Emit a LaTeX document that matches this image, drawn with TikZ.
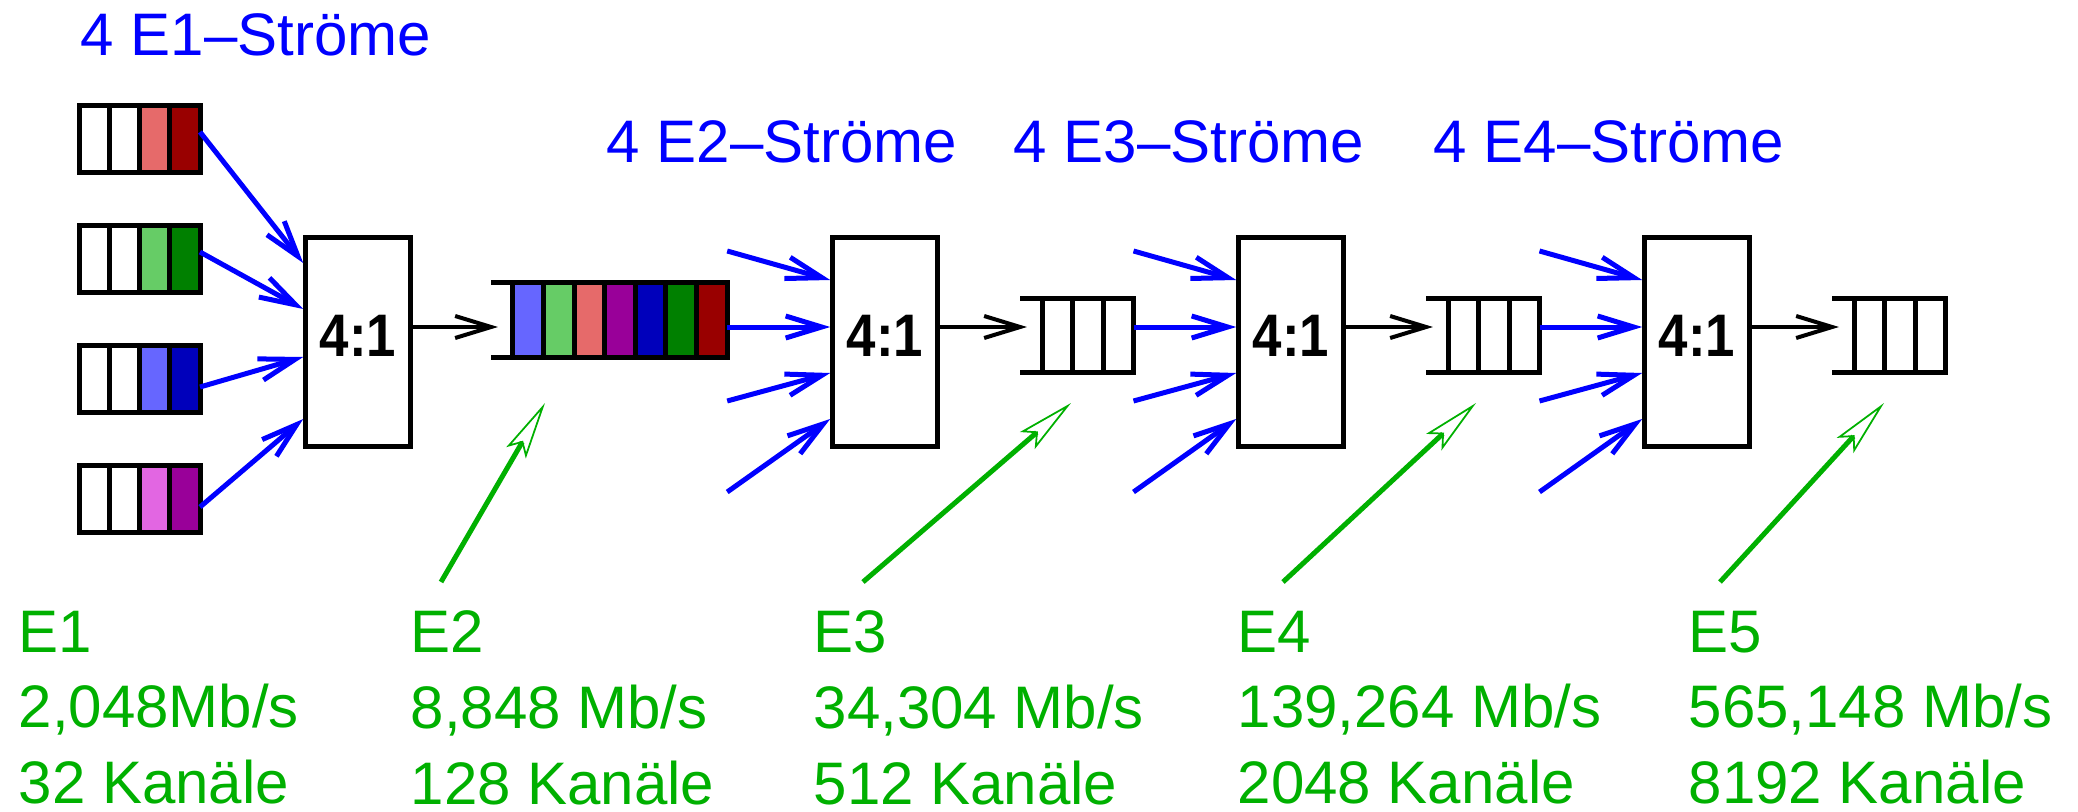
\documentclass[tikz,border=0pt]{standalone}
\usepackage{fontspec}
\setmainfont{Liberation Sans}
\usepackage{tikz}
\usetikzlibrary{arrows.meta}

\definecolor{lred}{RGB}{230,106,106}
\definecolor{dred}{RGB}{153,0,0}
\definecolor{lgreen}{RGB}{102,204,102}
\definecolor{dgreen}{RGB}{0,128,0}
\definecolor{lblue}{RGB}{102,102,255}
\definecolor{dblue}{RGB}{0,0,187}
\definecolor{lmag}{RGB}{226,102,226}
\definecolor{dmag}{RGB}{153,0,153}
\definecolor{rategreen}{RGB}{0,176,0}

\newcommand\labelsize{\fontsize{17.07}{21.6}\selectfont}

\tikzset{
  cell/.style={draw, line width=0.05cm, minimum width=0.3cm, inner sep=0pt, outer sep=0pt},
  mux/.style={draw, line width=0.05cm, minimum width=1.045cm, minimum height=2.095cm,
    inner sep=0pt, text depth=0.12cm, font=\labelsize\bfseries},
  qline/.style={line width=0.05cm},
  feed/.style={blue, line width=0.05cm, -{Straight Barb[length=0.36cm, width=0.22cm]}},
  muxout/.style={line width=0.04cm, -{Straight Barb[length=0.36cm, width=0.22cm]}},
  pointer/.style={rategreen, line width=0.05cm,
    -{Stealth[open, length=0.575cm, width=0.225cm, inset=0.114cm, line width=0.5pt]}},
  streamlbl/.style={anchor=base west, inner sep=0pt, text=blue},
  ratelbl/.style={anchor=north west, align=left, inner sep=0pt, text=rategreen},
}

\begin{document}
\begin{tikzpicture}[x=0.01cm, y=-0.01cm, font=\labelsize]
    \useasboundingbox (0,0) rectangle (2078,812);

    % Multiplexers
    \foreach \m/\x in {1/358, 2/885, 3/1291, 4/1697}
        \node[mux] (mux\m) at (\x,342) {\scalebox{0.88}[1]{4:1}};

    % E1 streams
    \foreach \row/\lc/\dc in {1/lred/dred, 2/lgreen/dgreen, 3/lblue/dblue, 4/lmag/dmag}
        \foreach \c/\col in {1/white, 2/white, 3/\lc, 4/\dc}
            \node[cell, minimum height=0.665cm, fill=\col] (e1q\row c\c) at ({65+30*\c},{19+120*\row}) {};

    \foreach \row/\ya/\yb in {1/132/263, 2/252/309, 3/387/357, 4/507/419}
        \draw[feed] (e1q\row c4.east |- 0,\ya) -- (mux1.west |- 0,\yb);

    % E2 frame
    \foreach \c/\col in {1/lblue, 2/lgreen, 3/lred, 4/dmag, 5/dblue, 6/dgreen, 7/dred}
        \node[cell, minimum width=0.306cm, minimum height=0.74cm, fill=\col] (q2c\c) at ({497.7+30.6*\c},320) {};
    \coordinate (q2out) at (q2c7.east);

    % E3 to E5 frames
    \foreach \s/\dx in {3/0, 4/406, 5/812} {
        \foreach \c in {1,2,3}
            \node[cell, minimum width=0.305cm, minimum height=0.73cm] (q\s c\c) at ({1026.75+\dx+30.5*\c},335.5) {};
        \coordinate (q\s out) at (q\s c3.east);
    }

    % Open ends of the frames
    \foreach \s in {2,...,5} {
        \draw[qline] (q\s c1.north west) -- +(-22,0);
        \draw[qline] (q\s c1.south west) -- +(-22,0);
        \coordinate (q\s in) at ([xshift=-0.15cm]q\s c1.west |- 0,327);
    }

    % Multiplexer outputs
    \foreach \m [evaluate=\m as \s using int(\m+1)] in {1,...,4}
        \draw[muxout] (mux\m.east |- q\s in) -- (q\s in);

    % Multiplexer inputs
    \foreach \m in {2,3,4}
        \foreach \ya/\yb in {251/280, 327/327, 401/373, 492/419}
            \draw[feed] (q\m out |- 0,\ya) -- (mux\m.west |- 0,\yb);

    % Stream labels
    \node[streamlbl] (strE1) at (80,55) {4 E1–Ströme};
    \node[streamlbl] (strE2) at (606,162) {4 E2–Ströme};
    \node[streamlbl] (strE3) at (1013,162) {4 E3–Ströme};
    \node[streamlbl] (strE4) at (1433,162) {4 E4–Ströme};

    % Rates
    \node[ratelbl] (rateE1) at (18,610) {E1\\2,048Mb/s\\32 Kanäle};
    \node[ratelbl] (rateE2) at (410,610) {E2\\8,848 Mb/s\\128 Kanäle};
    \node[ratelbl] (rateE3) at (813,610) {E3\\34,304 Mb/s\\512 Kanäle};
    \node[ratelbl] (rateE4) at (1237,610) {E4\\139,264 Mb/s\\2048 Kanäle};
    \node[ratelbl] (rateE5) at (1688,610) {E5\\565,148 Mb/s\\8192 Kanäle};

    % Pointers to the frames
    \foreach \s/\xa/\xb in {2/441/545, 3/863/1071, 4/1283/1476, 5/1720/1884} {
        \coordinate (ptr\s) at (\xa,582);
        \coordinate (tip\s) at (\xb,403);
        \draw[pointer] (ptr\s) -- (tip\s);
    }
\end{tikzpicture}
\end{document}
